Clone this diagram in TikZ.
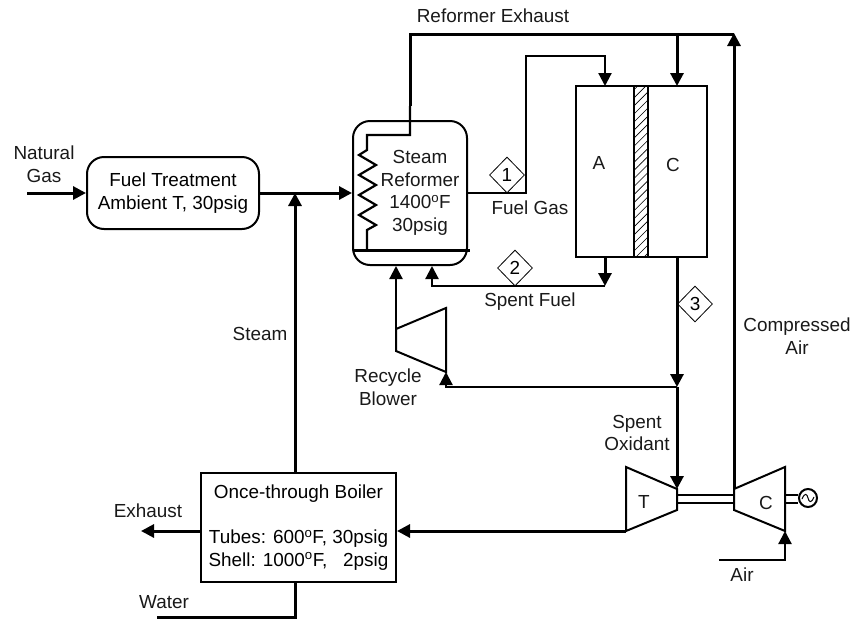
\documentclass[tikz,border=0pt]{standalone}
\usepackage{fontspec}
\setmainfont{Liberation Sans}
\usepackage{tikz}
\usetikzlibrary{arrows.meta,shapes.geometric,patterns.meta}
\newcommand{\degs}{\textsuperscript{o}}

\begin{document}
\begin{tikzpicture}[
    x=1pt, y=-1pt,
    font=\fontsize{18.9}{22.5}\selectfont,
    txt/.style={align=center, inner sep=0pt, text=black!90},
    unit/.style={draw, line width=2pt, align=center, inner sep=0pt},
    tag/.style={draw, diamond, line width=0.8pt, inner sep=0pt, minimum width=35pt, minimum height=36pt},
    pipe/.style={line width=2.2pt},
    main/.style={line width=3pt},
    arr/.style={-{Triangle[length=13pt, width=13pt]}},
    machine/.style={line width=2pt, line join=miter}
  ]
    \useasboundingbox (0,0) rectangle (852,619);

    % equipment
    \node[unit, rounded corners=17pt, minimum width=172pt, minimum height=72pt] (fuel) at (173,193)
      {Fuel Treatment\\Ambient T, 30psig};
    \node[unit, rounded corners=17pt, minimum width=114pt, minimum height=144pt] (reformer) at (410,193) {};
    \node[txt] (reftext) at (420,193) {Steam\\Reformer\\1400\degs F\\30psig};
    \node[unit, minimum width=131pt, minimum height=171pt] (stack) at (641.5,171.5) {};
    \node[unit, pattern={Lines[angle=45, distance=5.7pt, line width=0.6pt]}, minimum width=14pt, minimum height=171pt] (membrane) at (641,171.5) {};
    \node[unit, minimum width=195pt, minimum height=109pt] (boiler) at (298.5,527.5)
      {Once-through Boiler\\ \\Tubes: 600\degs F, 30psig\\Shell: 1000\degs F,\ \ \ 2psig};
    \node[draw, circle, line width=2pt, minimum size=18pt, inner sep=0pt] (gen) at (808,498) {};
    \draw[line width=1pt] (802,499) .. controls (805,492) and (807,494) .. (808,498) .. controls (809,502) and (811,504) .. (814,497);

    % blower, turbine and compressor
    \coordinate (blowin) at (396,329);
    \coordinate (blowout) at (446,372);
    \draw[machine] (blowin) -- (446,308) -- (blowout) -- (396,351) -- cycle;
    \coordinate (turbin) at (677,489);
    \coordinate (turbout) at (626,531);
    \draw[machine] (626,467) -- (turbin) -- (677,510) -- (turbout) -- cycle;
    \coordinate (compout) at (734,489);
    \coordinate (compin) at (785,531);
    \draw[machine] (compout) -- (785,467) -- (compin) -- (734,510) -- cycle;

    % reformer internals
    \coordinate (bedleft) at (353,250);
    \coordinate (bedright) at (470,250);
    \coordinate (coilin) at (367,250);
    \coordinate (coilout) at (410,135);
    \draw[line width=3pt] (bedleft) -- (bedright);
    \draw[pipe] (coilin) -- (367,230) -- (376,225) -- (359,215) -- (376,205) -- (359,195) -- (376,185)
      -- (359,175) -- (376,165) -- (359,155) -- (367,150) -- (367,135) -- (coilout) -- (410,106);

    % free ends and corners
    \coordinate (gasin) at (27,193);
    \coordinate (steamjoin) at (295,193);
    \coordinate (exhend) at (141,531);
    \coordinate (waterin) at (157,617);
    \coordinate (airin) at (719,560);
    \coordinate (split) at (677,387);
    \coordinate (anodein) at (605,86);
    \coordinate (cathin) at (677,86);
    \coordinate (anodeout) at (605,257);
    \coordinate (cathout) at (677,257);
    \coordinate (spentend) at (605,286);

    % streams
    \draw[main, arr] (gasin) -- (fuel.west);
    \draw[main, arr] (fuel.east) -- (reformer.west);
    \draw[main, arr] (boiler.north -| steamjoin) -- (steamjoin);
    \draw[main] (waterin) -- (295,617) -- (boiler.south -| steamjoin);
    \draw[main, arr] (boiler.west |- exhend) -- (exhend);
    \draw[main, arr] (turbout) -- (boiler.east |- turbout);
    \draw[pipe] (reformer.east) -- (526,193) -- (526,56) -- (605,56);
    \draw[pipe, arr] (605,55) -- (anodein);
    \draw[main] (410,106) -- (410,34) -- (734,34);
    \draw[main, arr] (677,34) -- (cathin);
    \draw[main, arr] (compout) -- (734,33);
    \draw[main, arr] (anodeout) -- (spentend);
    \draw[pipe, arr] (spentend) -- (432,286) -- (reformer.south -| 432,0);
    \draw[main, arr] (cathout) -- (split);
    \draw[main, arr] (split) -- (turbin);
    \draw[pipe, arr] (split) -- (446,387) -- (blowout);
    \draw[pipe, arr] (blowin) -- (reformer.south -| blowin);
    \draw[pipe, arr] (airin) -- (785,560) -- (compin);

    % shafts
    \draw[pipe] (677,495) -- (734,495);
    \draw[pipe] (677,503) -- (734,503);
    \draw[pipe] (785,495) -- (gen.west |- 0,495);
    \draw[pipe] (785,503) -- (gen.west |- 0,503);

    % stream numbers
    \node[tag] (s1) at (507,175) {1};
    \node[tag] (s2) at (515,268) {2};
    \node[tag] (s3) at (695,304) {3};

    % labels
    \node[txt] (natgas) at (44,164) {Natural\\Gas};
    \node[txt] (refexh) at (493,16) {Reformer Exhaust};
    \node[txt] (fuelgas) at (530,208) {Fuel Gas};
    \node[txt] (spentfuel) at (530,302) {Spent Fuel};
    \node[txt] (labA) at (599,163) {A};
    \node[txt] (labC) at (673,165) {C};
    \node[txt] (steam) at (260,334) {Steam};
    \node[txt] (recycle) at (388,387) {Recycle\\Blower};
    \node[txt] (spentox) at (637,433) {Spent\\Oxidant};
    \node[txt] (compair) at (797,336) {Compressed\\Air};
    \node[txt] (labT) at (644,502) {T};
    \node[txt] (labCC) at (766,503) {C};
    \node[txt] (air) at (742,575) {Air};
    \node[txt] (exhaust) at (148,511) {Exhaust};
    \node[txt] (water) at (164,602) {Water};
  \end{tikzpicture}
\end{document}
